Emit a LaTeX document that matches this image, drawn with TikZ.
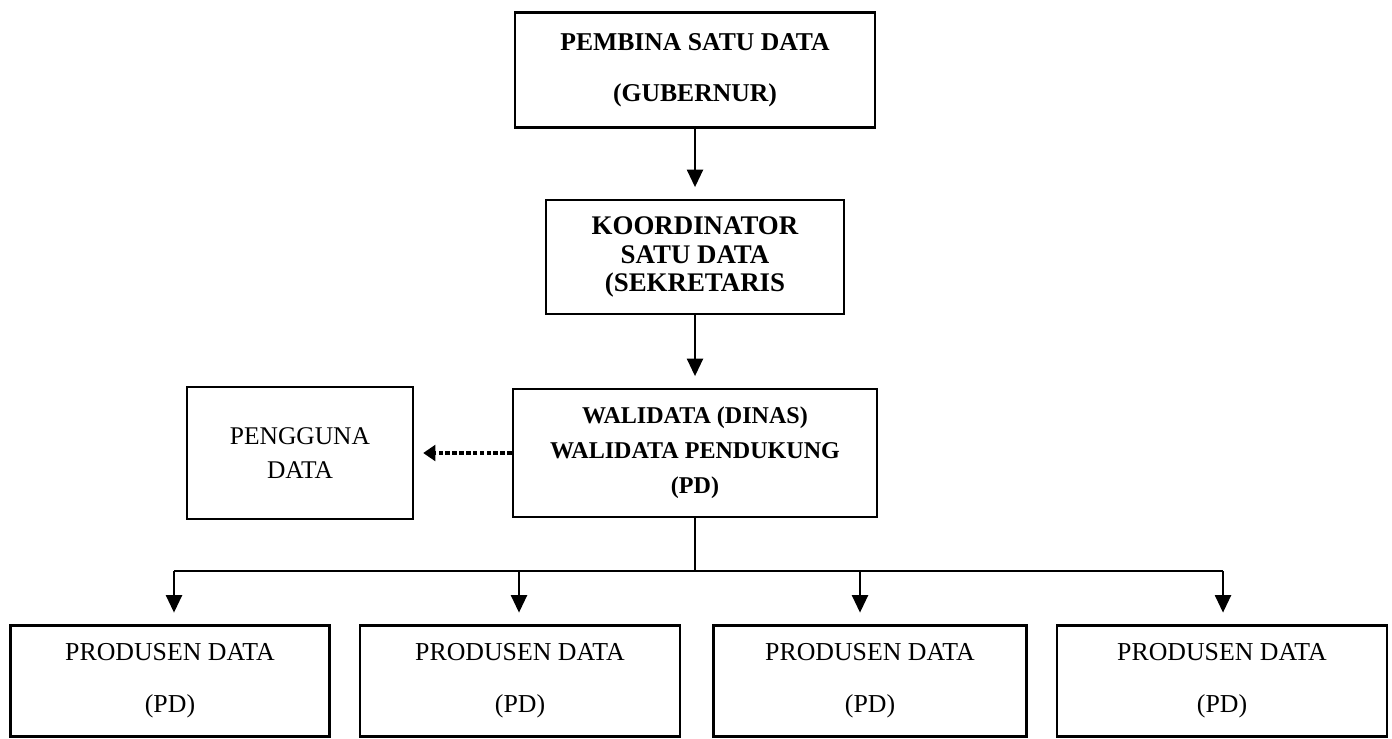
\documentclass[tikz,border=0pt]{standalone}
\usepackage{amsmath}
\usepackage{fontspec}
\setmainfont{Liberation Serif}
\usepackage{tikz}
\usetikzlibrary{shapes,arrows.meta}
\newcommand{\sdboxnode}[6] {\node at (#1) (#2) [rectangle, draw, line width=1.6pt, minimum width=#3, minimum height=#4, align=center, font=#5] {#6};}
\newcommand{\sdarrowline}[2] {\draw [line width=1.6pt, -{Triangle[width=9pt,length=10pt]}, shorten >=6.5pt] (#1) -- (#2) ;}

\begin{document}
\begin{tikzpicture}[x=0.02cm, y=-0.02cm]
\useasboundingbox (0,0) rectangle (1392,738);

\sdboxnode {695,70} {pembina} {7.2cm} {2.3cm} {\fontsize{14.6}{29}\selectfont\bfseries} {PEMBINA SATU DATA\\ (GUBERNUR)};
\sdboxnode {695,257} {koordinator} {5.96cm} {2.28cm} {\fontsize{15.3}{16}\selectfont\bfseries} {KOORDINATOR\\ SATU DATA\\ (SEKRETARIS};
\sdboxnode {695,453} {walidata} {7.28cm} {2.56cm} {\fontsize{13.7}{20}\selectfont\bfseries} {WALIDATA (DINAS)\\ WALIDATA PENDUKUNG\\ (PD)};
\sdboxnode {300,453} {pengguna} {4.52cm} {2.64cm} {\fontsize{14.5}{19}\selectfont} {PENGGUNA\\ DATA};

\sdboxnode {170,681} {produsen1} {6.38cm} {2.22cm} {\fontsize{14.7}{29.6}\selectfont} {PRODUSEN DATA\\ (PD)};
\sdboxnode {520,681} {produsen2} {6.4cm} {2.22cm} {\fontsize{14.7}{29.6}\selectfont} {PRODUSEN DATA\\ (PD)};
\sdboxnode {870,681} {produsen3} {6.26cm} {2.22cm} {\fontsize{14.7}{29.6}\selectfont} {PRODUSEN DATA\\ (PD)};
\sdboxnode {1222,681} {produsen4} {6.6cm} {2.22cm} {\fontsize{14.7}{29.6}\selectfont} {PRODUSEN DATA\\ (PD)};

\sdarrowline {pembina} {koordinator.north};
\sdarrowline {koordinator} {walidata.north};

% ke pengguna data
\draw [line width=2.6pt, dash pattern=on 2.6pt off 1.3pt, -{Triangle[width=9pt,length=7pt]}, shorten >=5pt] (walidata.west) -- (pengguna.east) ;

% percabangan ke produsen data
\coordinate (bus) at (695,571);
\coordinate (b1) at (174,571);
\coordinate (b2) at (519,571);
\coordinate (b3) at (860,571);
\coordinate (b4) at (1223,571);
\draw [line width=1.6pt] (walidata.south) -- (bus) ;
\draw [line width=1.6pt] (b1) -- (b4) ;

\sdarrowline {b1} {b1 |- produsen1.north};
\sdarrowline {b2} {b2 |- produsen2.north};
\sdarrowline {b3} {b3 |- produsen3.north};
\sdarrowline {b4} {b4 |- produsen4.north};
\end{tikzpicture}
\end{document}
